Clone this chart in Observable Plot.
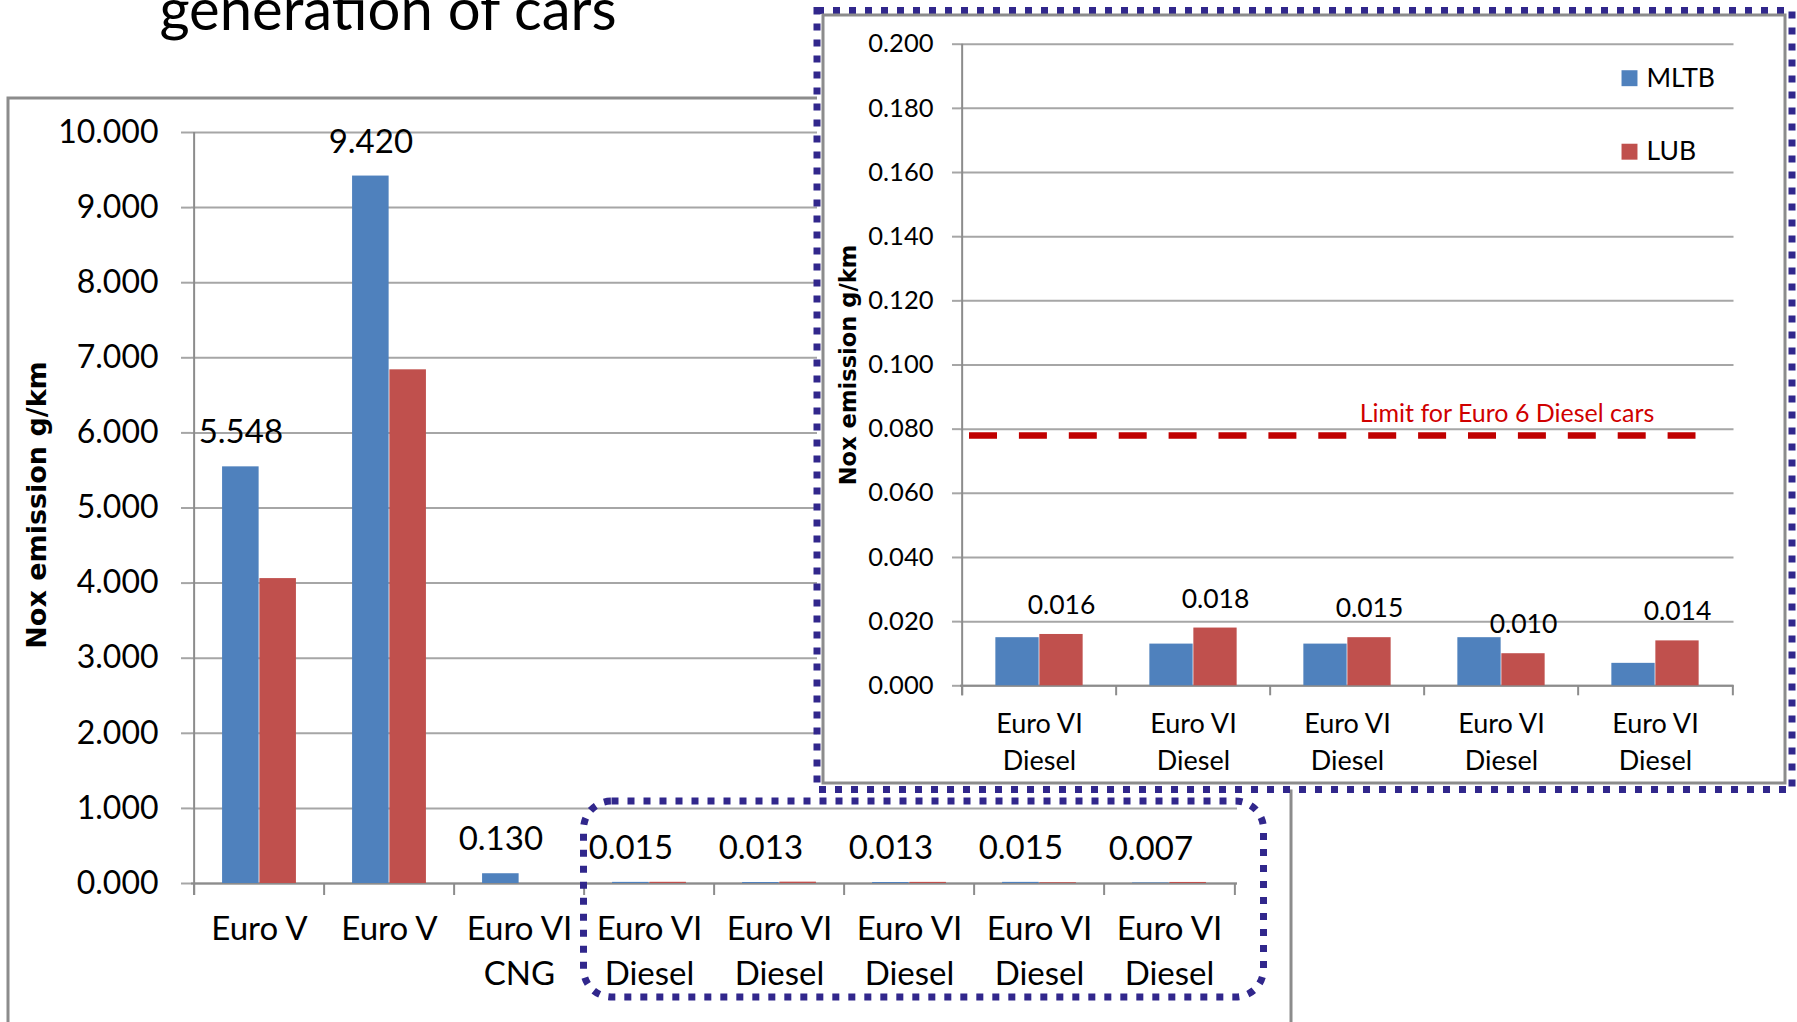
<!DOCTYPE html>
<html><head><meta charset="utf-8">
<script src="https://cdn.jsdelivr.net/npm/d3@7"></script>
<script src="https://cdn.jsdelivr.net/npm/@observablehq/plot@0.6"></script>
<style>
html,body{margin:0;padding:0;background:#fff;width:1797px;height:1022px;overflow:hidden;font-family:Lato,sans-serif}
#stage{position:relative;width:1797px;height:1022px}
#stage > svg{position:absolute}
</style></head><body><div id="stage"></div>
<script>
// ---------- data ----------
const titleText = "generation of cars";
const yTitle = "Nox emission g/km";
const seriesNames = ["MLTB", "LUB"];
const seriesColors = ["#4F81BD", "#C0504D"];

const mainCategories = ["Euro V", "Euro V", "Euro VI\nCNG", "Euro VI\nDiesel", "Euro VI\nDiesel", "Euro VI\nDiesel", "Euro VI\nDiesel", "Euro VI\nDiesel"];
const mainMLTB = [5.548, 9.420, 0.130, 0.015, 0.013, 0.013, 0.015, 0.007];
const mainLUB = [4.06, 6.84, null, 0.016, 0.018, 0.015, 0.010, 0.014];
const mainTicks = [0, 1, 2, 3, 4, 5, 6, 7, 8, 9, 10];

const insetCategories = ["Euro VI\nDiesel", "Euro VI\nDiesel", "Euro VI\nDiesel", "Euro VI\nDiesel", "Euro VI\nDiesel"];
const insetMLTB = [0.015, 0.013, 0.013, 0.015, 0.007];
const insetLUB = [0.016, 0.018, 0.015, 0.010, 0.014];
const insetTicks = [0, 0.02, 0.04, 0.06, 0.08, 0.10, 0.12, 0.14, 0.16, 0.18, 0.20];
const limitValue = 0.078;
const limitLabel = "Limit for Euro 6 Diesel cars";

// ---------- helpers ----------
const stage = document.getElementById("stage");
const NS = "http://www.w3.org/2000/svg";
function deco(children) {
  const s = document.createElementNS(NS, "svg");
  s.setAttribute("width", 1797); s.setAttribute("height", 1022);
  s.style.left = "0px"; s.style.top = "0px";
  for (const c of children) {
    const el = document.createElementNS(NS, c.tag);
    for (const k in c.a) el.setAttribute(k, c.a[k]);
    if (c.text) el.textContent = c.text;
    s.appendChild(el);
  }
  return s;
}
const GRID = "#A6A6A6", AXIS = "#8C8C8C", DOT = "#31278C";

// ---------- background decorations ----------
stage.appendChild(deco([
  {tag: "text", a: {x: 388, y: 30, "text-anchor": "middle", "font-family": "Lato, sans-serif", "font-size": 58, fill: "#000"}, text: titleText},
  {tag: "rect", a: {x: 8, y: 98, width: 1283, height: 1000, fill: "#fff", stroke: "#8C8C8C", "stroke-width": 3}}
]));

// ---------- chart builder ----------
function buildChart(o) {
  const rows = o.cats.map((c, i) => ({id: i, label: c, MLTB: o.a[i], LUB: o.b[i]}));
  const ids = rows.map(d => d.id);
  const bw = (o.width - o.ml - o.mr) / ids.length;
  const pad = (bw - 2 * o.barW) / 2;
  const frameH = o.height - o.mt - o.mb;
  const marks = [
    Plot.gridY(o.ticks, {stroke: GRID, strokeOpacity: 1, strokeWidth: 2}),
    Plot.axisY(o.ticks, {tickFormat: d => d.toFixed(3), tickSize: o.tickY, tickPadding: o.tickPad, fontSize: o.tickFont, stroke: GRID, strokeWidth: 2}),
    Plot.ruleX([ids[0]], {x: d => d, dx: -bw / 2, stroke: AXIS, strokeWidth: 2, insetBottom: -o.tickX}),
    Plot.ruleX(ids, {x: d => d, dx: -bw / 2, stroke: AXIS, strokeWidth: 2, insetTop: frameH, insetBottom: -o.tickX}),
    Plot.ruleX([ids[ids.length - 1]], {x: d => d, dx: bw / 2, stroke: AXIS, strokeWidth: 2, insetTop: frameH, insetBottom: -o.tickX}),
    Plot.ruleY([0], {stroke: AXIS, strokeWidth: 2}),
    Plot.barY(rows.filter(d => d.MLTB != null), {x: "id", y: "MLTB", fill: seriesColors[0], insetLeft: pad, insetRight: bw / 2}),
    Plot.barY(rows.filter(d => d.LUB != null), {x: "id", y: "LUB", fill: seriesColors[1], insetLeft: bw / 2, insetRight: pad}),
    Plot.text(rows.filter(d => d[o.labelKey] != null), {x: "id", y: o.labelKey, text: d => d[o.labelKey].toFixed(3),
      dx: o.labelKey === "MLTB" ? -o.barW / 2 : o.barW / 2, dy: o.labelDy, fontSize: o.labelFont}),
    Plot.text(rows, {x: "id", text: "label", frameAnchor: "bottom", lineAnchor: "top", dy: o.xlabDy, fontSize: o.xlabFont, lineHeight: o.xlabLH}),
    Plot.text([yTitle], {frameAnchor: "left", textAnchor: "middle", lineAnchor: "middle", rotate: -90, dx: o.ytDx, dy: o.ytDy, fontFamily: "DejaVu Sans", fontWeight: "bold", fontSize: o.ytFont})
  ];
  if (o.extra) marks.push(...o.extra(bw));
  const svg = Plot.plot({
    width: o.width, height: o.height,
    marginLeft: o.ml, marginRight: o.mr, marginTop: o.mt, marginBottom: o.mb,
    x: {type: "band", domain: ids, padding: 0, axis: null},
    y: {domain: o.ydom},
    style: {background: "transparent", color: "#000", fontFamily: "Lato, sans-serif", overflow: "visible"},
    marks
  });
  svg.style.left = o.left + "px"; svg.style.top = o.top + "px";
  return svg;
}

// ---------- main chart ----------
stage.appendChild(buildChart({
  left: 0, top: 0, width: 1300, height: 1022,
  ml: 191, mr: 63, mt: 132, mb: 139,
  cats: mainCategories, a: mainMLTB, b: mainLUB, ticks: mainTicks, ydom: [0, 10],
  barW: 37.3, tickY: 10, tickX: 12, tickPad: 23, tickFont: 32,
  labelKey: "MLTB", labelDy: -34, labelFont: 33,
  xlabDy: 25, xlabFont: 33, xlabLH: 1.36,
  ytDx: -154, ytDy: -3, ytFont: 27
}));

// ---------- overlay decorations ----------
stage.appendChild(deco([
  {tag: "rect", a: {x: 583.5, y: 801, width: 680, height: 196, rx: 28, ry: 28, fill: "none", stroke: DOT, "stroke-width": 7, "stroke-dasharray": "7 9"}},
  {tag: "rect", a: {x: 817, y: 10.5, width: 975, height: 779, fill: "#fff", stroke: DOT, "stroke-width": 7, "stroke-dasharray": "7 9"}},
  {tag: "rect", a: {x: 823, y: 15, width: 962, height: 768, fill: "#fff", stroke: "#8C8C8C", "stroke-width": 3}}
]));

// ---------- inset chart ----------
stage.appendChild(buildChart({
  left: 810, top: 0, width: 987, height: 800,
  ml: 150, mr: 63.5, mt: 43.7, mb: 114.7,
  cats: insetCategories, a: insetMLTB, b: insetLUB, ticks: insetTicks, ydom: [0, 0.2],
  barW: 44, tickY: 8, tickX: 10, tickPad: 19, tickFont: 25.5,
  labelKey: "LUB", labelDy: -29, labelFont: 26.5,
  xlabDy: 21, xlabFont: 27, xlabLH: 1.36,
  ytDx: -112, ytDy: 0, ytFont: 22.6,
  extra: () => [
    Plot.ruleY([limitValue], {stroke: "#C00000", strokeWidth: 6.5, strokeDasharray: "28 21.9", insetLeft: 9, insetRight: 38}),
    Plot.text([limitLabel], {y: limitValue, frameAnchor: "right", textAnchor: "middle", lineAnchor: "middle", dx: -227, dy: -22, fill: "#D00000", fontSize: 25}),
    ...seriesNames.map((name, i) => Plot.dot([name], {frameAnchor: "top-right", symbol: "square", r: 9, fill: seriesColors[i], stroke: null, dx: -104.5, dy: 34 + i * 73.5})),
    ...seriesNames.map((name, i) => Plot.text([name], {frameAnchor: "top-right", text: d => d, textAnchor: "start", lineAnchor: "middle", dx: -87.5, dy: 34 + i * 73.5, fontSize: 26.5}))
  ]
}));
</script>
</body></html>
